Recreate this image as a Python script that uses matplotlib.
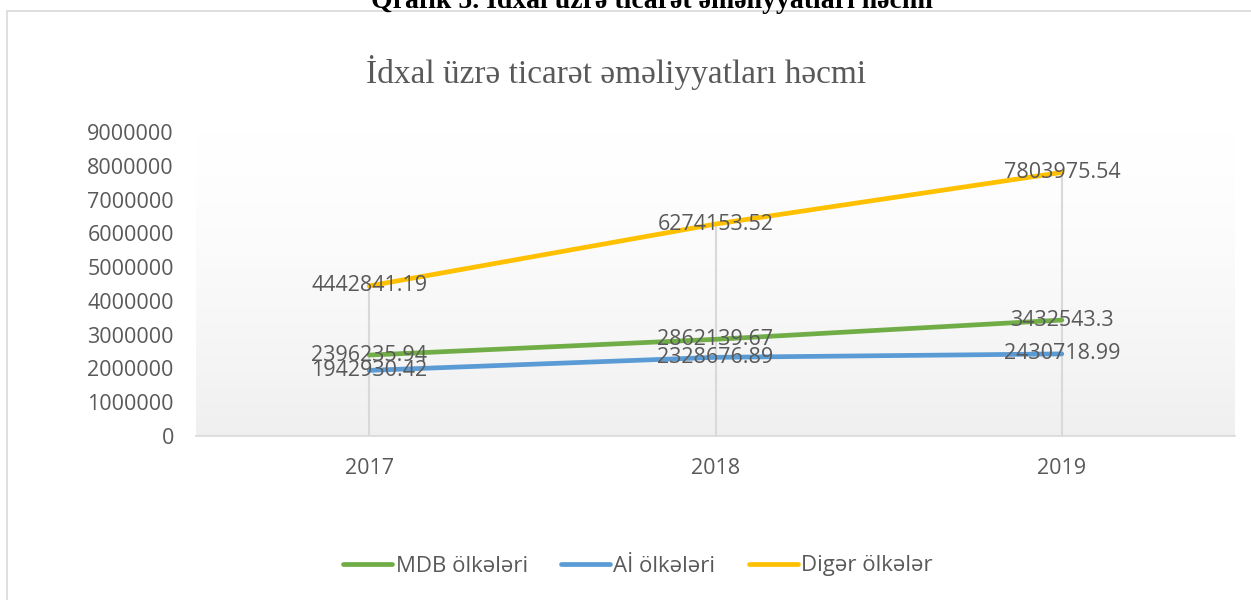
import matplotlib
matplotlib.use("Agg")
import matplotlib.pyplot as plt
from matplotlib.patches import Rectangle
import numpy as np

years = ["2017", "2018", "2019"]
mdb = [2396235.94, 2862139.67, 3432543.3]
ai = [1942930.42, 2328676.89, 2430718.99]
diger = [4442841.19, 6274153.52, 7803975.54]
series_names = ["MDB ölkələri", "Aİ ölkələri", "Digər ölkələr"]
colors = ["#70AD47", "#5B9BD5", "#FFC000"]
yticks = list(range(0, 9000001, 1000000))

plt.rcParams['font.family'] = ['Open Sans', 'DejaVu Sans']
txt = "#595959"

fig = plt.figure(figsize=(12.51, 6.0), dpi=100)

# outer chart border
fig.patches.append(Rectangle((7 / 1251, -0.02), 1.1, 1 - 11 / 600 + 0.02,
                             transform=fig.transFigure, fill=False,
                             edgecolor="#d9d9d9", linewidth=1.2))

# clipped document caption above the chart
fig.text(652 / 1251, 1 - 8 / 600, "Qrafik 5. İdxal üzrə ticarət əməliyyatları həcmi",
         ha="center", va="baseline", fontsize=20, fontweight="bold",
         family=["Liberation Serif", "DejaVu Serif"], color="black")

fig.text(616 / 1251, 1 - 72 / 600, "İdxal üzrə ticarət əməliyyatları həcmi",
         ha="center", va="center", fontsize=24,
         family=["Liberation Serif", "DejaVu Serif"], color=txt)

ax = fig.add_axes([196 / 1251, 1 - 436 / 600, (1235 - 196) / 1251, (436 - 132) / 600])
x = np.arange(len(years)) + 0.5

# gradient background of plot area
grad = np.linspace(0, 1, 256).reshape(-1, 1)
gray = 1 - 0.06 * grad ** 1.4
img = np.dstack([gray, gray, gray])
ax.imshow(img, extent=[0, len(years), 0, 9000000], aspect="auto", zorder=0,
          origin="upper")
ax.set_xlim(0, len(years))
ax.set_ylim(0, 9000000)

# drop lines
tops = np.max([mdb, ai, diger], axis=0)
ax.vlines(x, 0, tops, color="#d9d9d9", linewidth=1.5, zorder=1)

for vals, name, c in zip([mdb, ai, diger], series_names, colors):
    ax.plot(x, vals, color=c, linewidth=3.4, label=name, zorder=3,
            solid_capstyle="round")
    for xi, v in zip(x, vals):
        ax.text(xi, v, str(v), ha="center", va="center", fontsize=15.5,
                color=txt, zorder=4)

for s in ["top", "right", "left"]:
    ax.spines[s].set_visible(False)
ax.spines["bottom"].set_color("#d9d9d9")
ax.spines["bottom"].set_linewidth(1.2)

ax.set_xticks(x)
ax.set_xticklabels(years)
ax.set_yticks(yticks)
ax.set_yticklabels([str(t) for t in yticks])
ax.tick_params(axis="both", length=0, labelsize=15.5, labelcolor=txt)
ax.tick_params(axis="x", pad=16)
ax.tick_params(axis="y", pad=16)

fig.legend(loc="center", bbox_to_anchor=(638 / 1251, 1 - 566 / 600), ncol=3,
           frameon=False, fontsize=16, labelcolor=txt, handlelength=2.2,
           handletextpad=0.15, columnspacing=1.5)

fig.savefig("out.png", dpi=100)
